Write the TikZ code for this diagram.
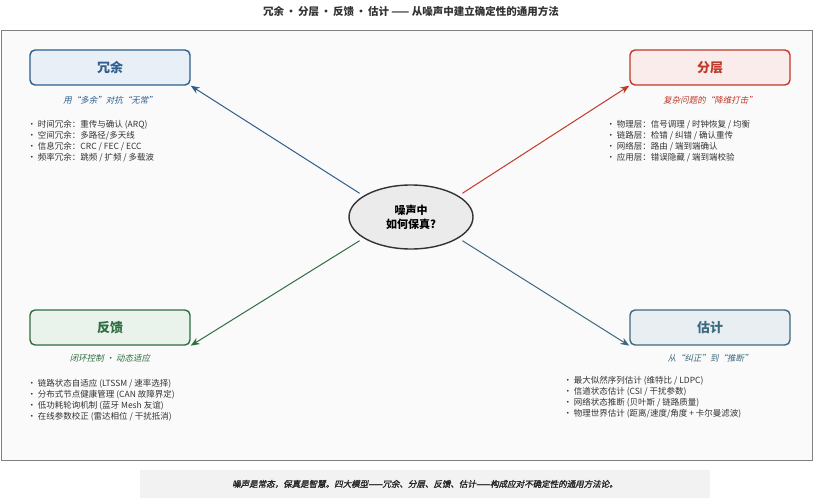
\documentclass[tikz,border=0pt]{standalone}
\usepackage{fontspec}
\setmainfont{Noto Sans CJK SC}
\newfontfamily\slfont[FakeSlant=0.2]{Noto Sans CJK SC}
\newfontfamily\slbfont[FakeSlant=0.2,FakeBold=1.5]{Noto Sans CJK SC}
\usetikzlibrary{shapes.geometric,arrows.meta}
\definecolor{cB}{HTML}{2E5E8C}\definecolor{fB}{HTML}{E8EFF7}
\definecolor{cR}{HTML}{C0392B}\definecolor{fR}{HTML}{F9ECEA}
\definecolor{cG}{HTML}{2F6E42}\definecolor{fG}{HTML}{EAF2EC}
\definecolor{cE}{HTML}{3C6A80}\definecolor{fE}{HTML}{E8EEF2}
\tikzset{
 box/.style={draw=#1,line width=1.4pt,rounded corners=5pt,minimum width=160pt,minimum height=35pt,font=\fontsize{13}{15}\selectfont\bfseries,text=#1},
 sub/.style={font=\fontsize{8.5}{10}\selectfont\slfont,text=#1},
 lst/.style={font=\fontsize{8.5}{11}\selectfont,text=black!80,align=left,anchor=north west},
 arr/.style={draw=#1,line width=1pt,-{Stealth[length=9pt,width=7pt]}}
}
\begin{document}
\begin{tikzpicture}[x=1pt,y=-1pt]
\useasboundingbox (0,0) rectangle (822,500);
\fill[white] (0,0) rectangle (822,500);
\node[font=\fontsize{10.5}{12}\selectfont\bfseries,text=black!80] (title) at (411,11) {冗余\,·\,分层\,·\,反馈\,·\,估计 —— 从噪声中建立确定性的通用方法};
\draw[draw=black!50,fill=black!2,line width=0.8pt] (1,30) rectangle (812,460);
\node[box=cB,fill=fB] (r) at (110,67.5) {冗余};
\node[box=cR,fill=fR] (l) at (710,67.5) {分层};
\node[box=cG,fill=fG] (f) at (110,327.5) {反馈};
\node[box=cE,fill=fE] (e) at (710,327.5) {估计};
\node[ellipse,draw=black!80,fill=black!8,line width=1.4pt,minimum width=124pt,minimum height=64pt,align=center,font=\fontsize{11}{14}\selectfont\bfseries] (c) at (411,217) {噪声中\\如何保真?};
\node[sub=cB] (rs) at (110,100) {用“多余”对抗“无常”};
\node[sub=cR] (ls) at (710,100) {复杂问题的“降维打击”};
\node[sub=cG] (fs) at (110,358) {闭环控制 · 动态适应};
\node[sub=cE] (es) at (710,358) {从“纠正”到“推断”};
\node[lst] (rl) at (24,117) {• 时间冗余：重传与确认 (ARQ)\\• 空间冗余：多路径/多天线\\• 信息冗余：CRC / FEC / ECC\\• 频率冗余：跳频 / 扩频 / 多载波};
\node[lst] (ll) at (603,117) {• 物理层：信号调理 / 时钟恢复 / 均衡\\• 链路层：检错 / 纠错 / 确认重传\\• 网络层：路由 / 端到端确认\\• 应用层：错误隐藏 / 端到端校验};
\node[lst] (fl) at (24,376) {• 链路状态自适应 (LTSSM / 速率选择)\\• 分布式节点健康管理 (CAN 故障界定)\\• 低功耗轮询机制 (蓝牙 Mesh 友谊)\\• 在线参数校正 (雷达相位 / 干扰抵消)};
\node[lst] (el) at (560,373) {• 最大似然序列估计 (维特比 / LDPC)\\• 信道状态估计 (CSI / 干扰参数)\\• 网络状态推断 (贝叶斯 / 链路质量)\\• 物理世界估计 (距离/速度/角度 + 卡尔曼滤波)};
\draw[arr=cB] (c.160) ++(0,-5) coordinate (c1) -- (r.south east);
\draw[arr=cR] (c.20) ++(0,-5) coordinate (c2) -- (l.south west);
\draw[arr=cG] (c.200) ++(0,5) coordinate (c3) -- (f.south east);
\draw[arr=cE] (c.340) ++(0,5) coordinate (c4) -- (e.south west);
\node[fill=black!5,minimum width=570pt,minimum height=28pt,font=\fontsize{8.5}{10}\selectfont\slbfont,text=black!85] (foot) at (425,484) {噪声是常态，保真是智慧。四大模型——冗余、分层、反馈、估计——构成应对不确定性的通用方法论。};
\end{tikzpicture}
\end{document}
